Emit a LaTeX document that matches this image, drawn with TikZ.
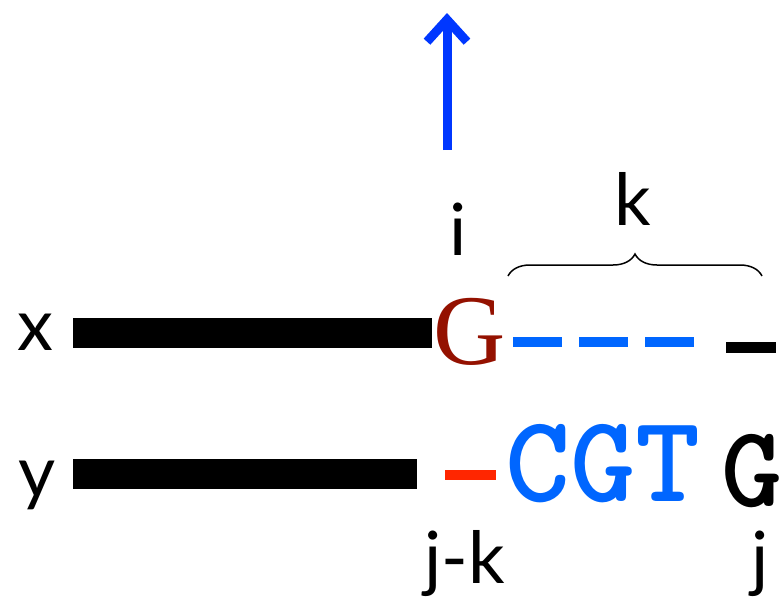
\documentclass[tikz,border=0pt]{standalone}
\usepackage{fontspec}
\setsansfont{Lato}
\newfontfamily\rmG{Liberation Serif}
\usepackage{tikz}
\usetikzlibrary{positioning}
\usetikzlibrary{arrows.meta}
\usetikzlibrary{decorations.pathreplacing}

\definecolor{arrowblue}{RGB}{0,55,255}
\definecolor{gapblue}{RGB}{0,102,255}
\definecolor{darkred}{RGB}{148,17,0}
\definecolor{gapred}{RGB}{255,38,0}

\begin{document}
\begin{tikzpicture}[ x = 1pt, y = -1pt
                   , >={Straight Barb[length=22pt, width=40pt]}
                   , every node/.style = { inner sep = 0pt
                                         , outer sep = 0pt }
                   , seqbar/.style = { fill = black
                                     , minimum height = 30pt }
                   , lbl/.style = { font = \sffamily\fontsize{72}{72}\selectfont
                                  , anchor = base }
                   , gap/.style = { line width = 10pt }
                   ]

  \useasboundingbox (0,0) rectangle (782,598);

  %%
  %% Nodes
  %%
  \node (xlab) [lbl] at (35,350) {x};
  \node (ylab) [lbl] at (37,497) {y};
  \node (xbar) [seqbar, minimum width = 359pt] at (252.5,333) {};
  \node (ybar) [seqbar, minimum width = 344pt] at (245,474) {};

  \node (gx) [anchor = base, text = darkred,
              font = \rmG\fontsize{100}{100}\selectfont] at (470,364) {G};
  \node (cgt) [anchor = base, text = gapblue,
               font = \ttfamily\bfseries\fontsize{124}{124}\selectfont] at (603,501) {CGT};
  \node (gy) [anchor = base, text = black,
              font = \ttfamily\bfseries\fontsize{116}{116}\selectfont] at (752,506) {G};

  \node (ilab) [lbl] at (458,255) {i};
  \node (klab) [lbl] at (633,225) {k};
  \node (jklab) [lbl] at (465,583) {j-k};
  \node (jlab) [lbl] at (760,583) {j};

  \coordinate (arrbot) at (447,150);
  \coordinate (arrtop) at (447,13);
  \coordinate (bl) at (508,276);
  \coordinate (br) at (762,276);

  %%
  %% Gaps and arrow
  %%
  % Gaps in x, the last one is black.
  \coordinate (xg1) at (513,342);
  \coordinate (xg2) at (697,342);
  \draw[gap, gapblue, dash pattern = on 49pt off 17pt] (xg1) -- (xg2);
  \coordinate (xg3) at (726,347.5);
  \coordinate (xg4) at (776,347.5);
  \draw[gap, black, line width = 11pt] (xg3) -- (xg4);
  % Gap in y.
  \coordinate (yg1) at (445,475);
  \coordinate (yg2) at (496,475);
  \draw[gap, gapred] (yg1) -- (yg2);

  \draw[->, arrowblue, line width = 9pt] (arrbot) -- (arrtop);
  \draw[decorate, decoration = {brace, amplitude = 22pt}, line width = 1.5pt]
       (bl) -- (br);
\end{tikzpicture}
\end{document}
